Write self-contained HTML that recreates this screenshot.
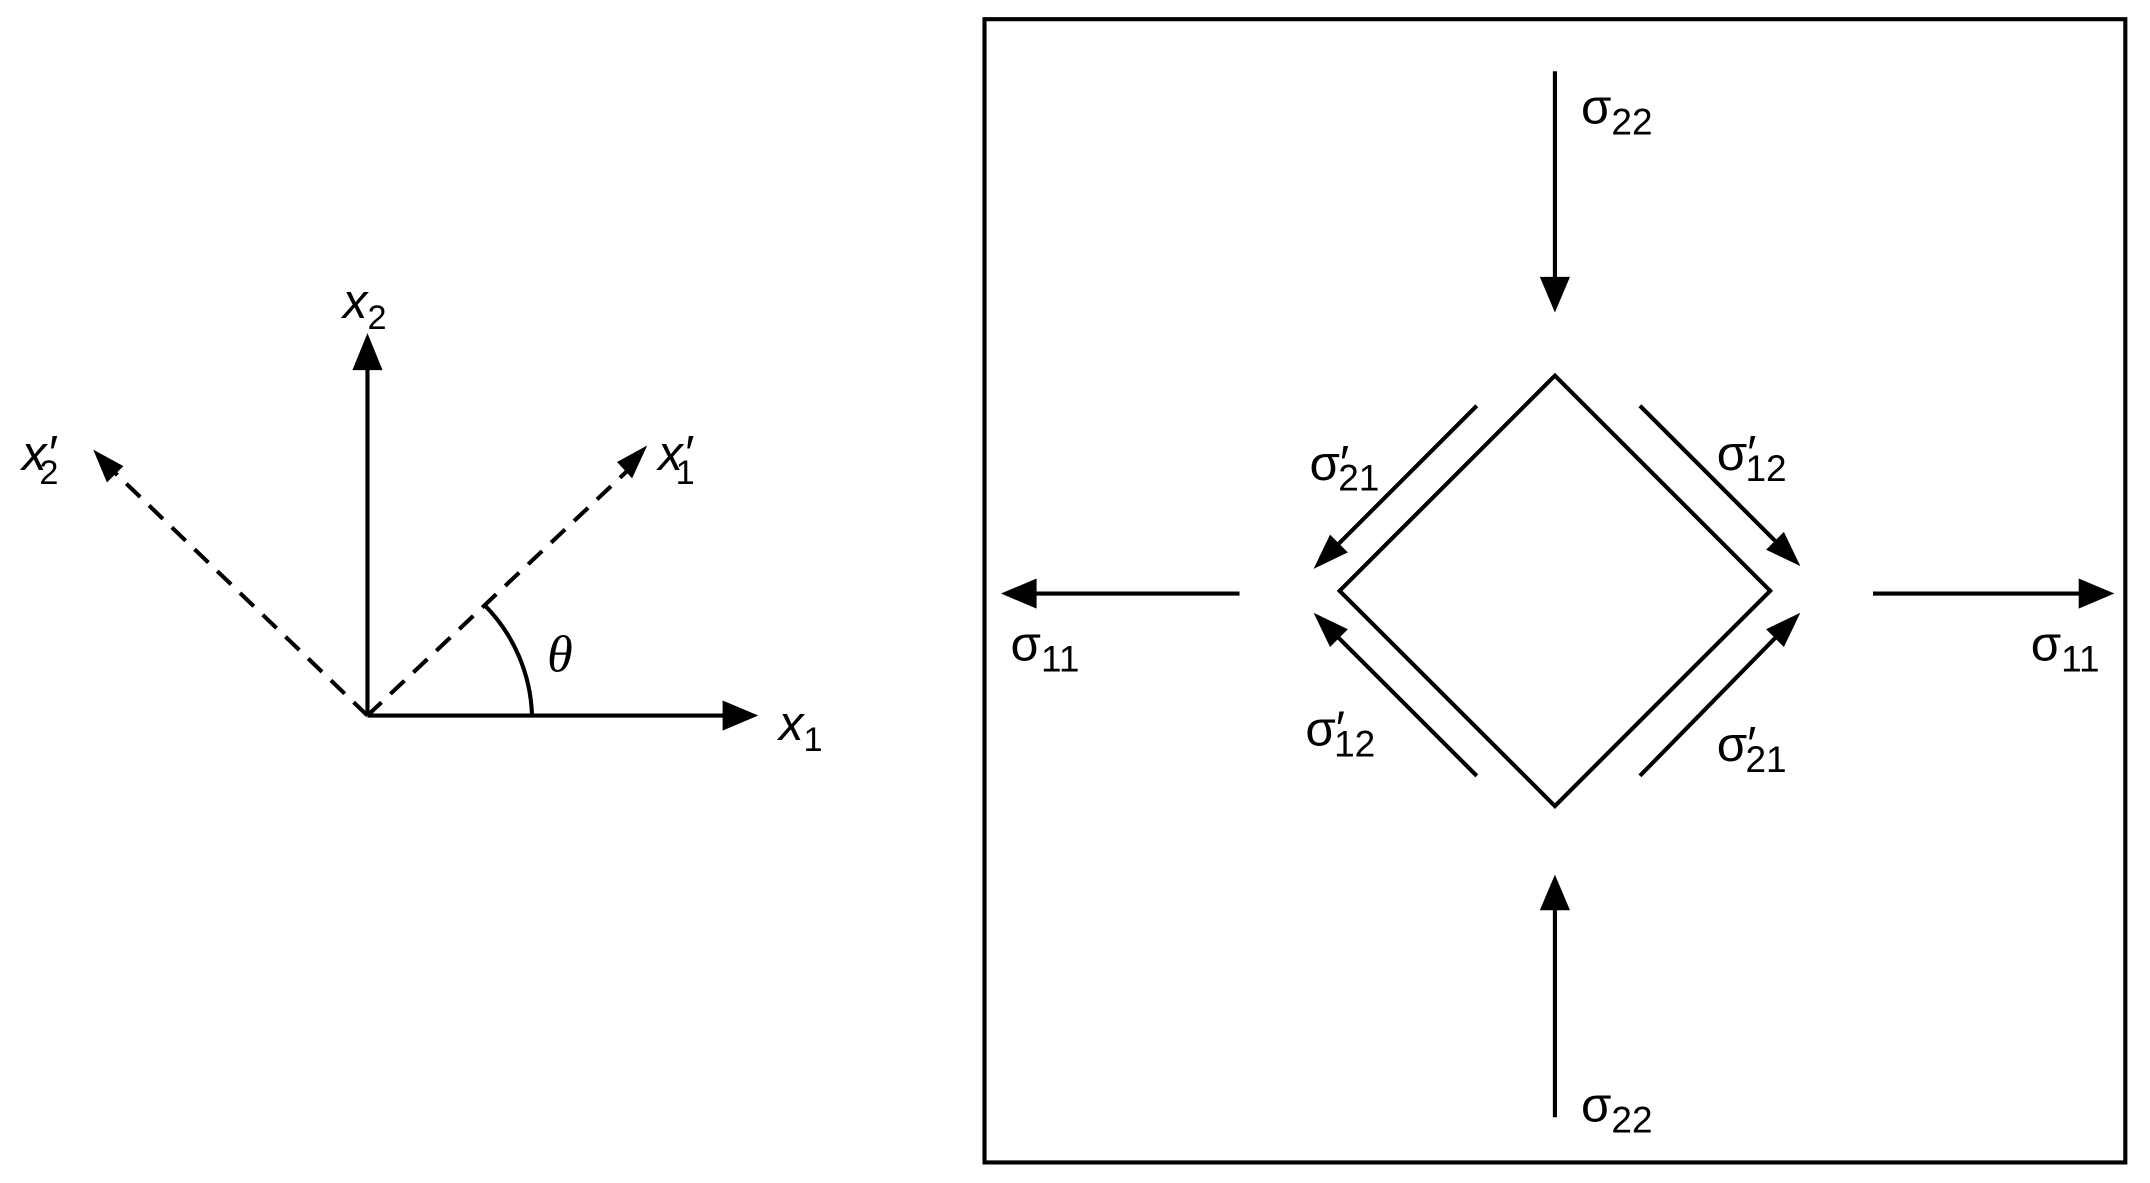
<!DOCTYPE html>
<html><head><style>html,body{margin:0;padding:0;background:#fff}svg{display:block}</style></head>
<body>
<svg width="2150" height="1183" viewBox="0 0 1568 863" preserveAspectRatio="none" xmlns="http://www.w3.org/2000/svg">
<g stroke="#000" stroke-width="3" fill="none">
<line x1="268" y1="522" x2="530" y2="522"/>
<line x1="268" y1="522" x2="268" y2="268"/>
<line x1="268" y1="522" x2="458" y2="343" stroke-dasharray="14,9"/>
<line x1="268" y1="522" x2="84" y2="345" stroke-dasharray="14,9"/>
<path d="M388 522 A120 120 0 0 0 353 441"/>
<rect x="718" y="14" width="832" height="834"/>
<line x1="1134" y1="52" x2="1134" y2="204"/>
<line x1="1134" y1="815" x2="1134" y2="662"/>
<line x1="904" y1="433" x2="754" y2="433"/>
<line x1="1366" y1="433" x2="1518" y2="433"/>
<polygon points="1134,274 1291,431 1134,588 977,431"/>
<line x1="1077" y1="296" x2="975" y2="398"/>
<line x1="1196" y1="296" x2="1296" y2="396"/>
<line x1="1077" y1="566" x2="975" y2="464"/>
<line x1="1196" y1="566" x2="1296" y2="464"/>
</g>
<g fill="#000">
<polygon points="553,522 527,511 527,533"/>
<polygon points="268,243 257,270 279,270"/>
<polygon points="472,325 450,337 461,349"/>
<polygon points="68,328 78,352 90,340"/>
<polygon points="1134,228 1123,202 1145,202"/>
<polygon points="1134,638 1123,664 1145,664"/>
<polygon points="730,433 756,422 756,444"/>
<polygon points="1542,433 1516,422 1516,444"/>
<polygon points="958,415 970,390 983,403"/>
<polygon points="1313,413 1288,401 1301,388"/>
<polygon points="958,447 970,472 983,459"/>
<polygon points="1313,447 1288,459 1301,472"/>
</g>
<g font-family="Liberation Sans, DejaVu Sans, sans-serif" font-size="36" fill="#000">
<text x="250" y="232" font-style="italic">x<tspan font-size="25" font-style="normal" dy="8">2</tspan></text>
<text x="568" y="540" font-style="italic">x<tspan font-size="25" font-style="normal" dy="8">1</tspan></text>
<text x="480" y="343" font-style="italic">x′<tspan font-size="25" font-style="normal" dx="-12" dy="10">1</tspan></text>
<text x="16" y="343" font-style="italic">x′<tspan font-size="25" font-style="normal" dx="-12" dy="10">2</tspan></text>
<text x="399" y="490" font-family="Liberation Serif, serif" font-style="italic" font-size="38">θ</text>
<text x="1153" y="90">σ<tspan font-size="27" dy="8">22</tspan></text>
<text x="1153" y="818">σ<tspan font-size="27" dy="8">22</tspan></text>
<text x="737" y="482">σ<tspan font-size="27" dy="8">11</tspan></text>
<text x="1481" y="482">σ<tspan font-size="27" dy="8">11</tspan></text>
<text x="955" y="350">σ′<tspan font-size="27" dx="-8" dy="8">21</tspan></text>
<text x="1252" y="343">σ′<tspan font-size="27" dx="-8" dy="8">12</tspan></text>
<text x="952" y="544">σ′<tspan font-size="27" dx="-8" dy="8">12</tspan></text>
<text x="1252" y="555">σ′<tspan font-size="27" dx="-8" dy="8">21</tspan></text>
</g>
</svg>
</body></html>
